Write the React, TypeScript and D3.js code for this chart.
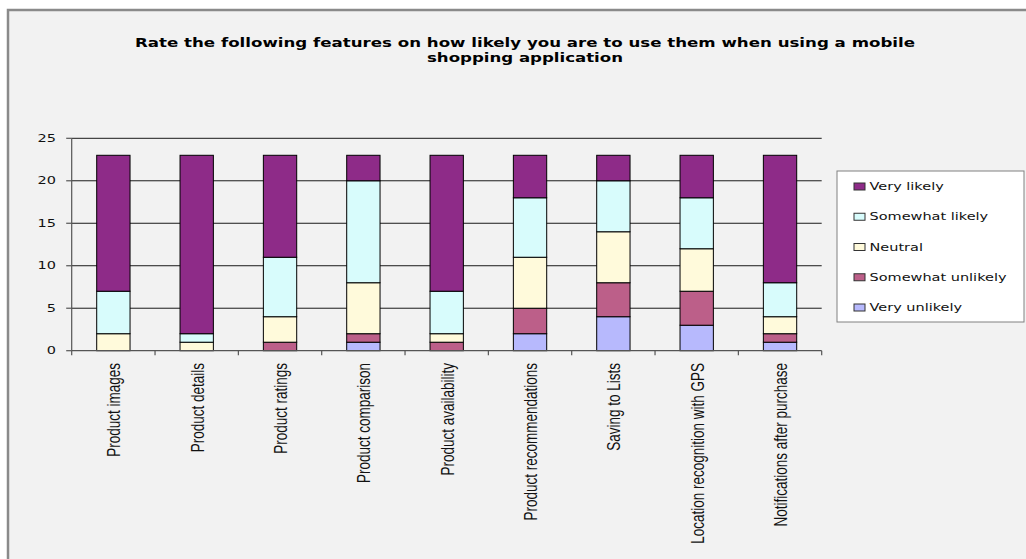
import React from "react";
import * as d3 from "d3";

// Survey features (x categories)
const categories = [
  "Product images",
  "Product details",
  "Product ratings",
  "Product comparison",
  "Product availability",
  "Product recommendations",
  "Saving to Lists",
  "Location recognition with GPS",
  "Notifications after purchase",
];

// Response counts per feature, stacked bottom to top
const veryUnlikely = [0, 0, 0, 1, 0, 2, 4, 3, 1];
const somewhatUnlikely = [0, 0, 1, 1, 1, 3, 4, 4, 1];
const neutral = [2, 1, 3, 6, 1, 6, 6, 5, 2];
const somewhatLikely = [5, 1, 7, 12, 5, 7, 6, 6, 4];
const veryLikely = [16, 21, 12, 3, 16, 5, 3, 5, 15];

const seriesNames = ["Very unlikely", "Somewhat unlikely", "Neutral", "Somewhat likely", "Very likely"];
const seriesValues = [veryUnlikely, somewhatUnlikely, neutral, somewhatLikely, veryLikely];
const seriesColors = ["#b7b9fd", "#bc5f89", "#fffadb", "#d8fcfc", "#8e2b88"];

const yTicks = [0, 5, 10, 15, 20, 25];

const titleLines = [
  "Rate the following features on how likely you are to use them when using a mobile",
  "shopping application",
];

export default function App() {
  const width = 1026;
  const height = 559;
  const plotLeft = 71.7;
  const plotRight = 821.7;
  const plotTop = 138.3;
  const plotBottom = 350.7;

  const x = d3
    .scaleBand<string>()
    .domain(categories)
    .range([plotLeft, plotRight])
    .paddingInner(0.6)
    .paddingOuter(0.3);
  const y = d3.scaleLinear().domain([0, 25]).range([plotBottom, plotTop]);

  const rows = categories.map((c, i) => {
    const row: Record<string, number | string> = { category: c };
    seriesNames.forEach((s, k) => (row[s] = seriesValues[k][i]));
    return row;
  });
  const stacked = d3.stack<any>().keys(seriesNames)(rows);

  const step = x.step();
  const gap = (step - x.bandwidth()) / 2;
  const boundaries = categories.map((c) => (x(c) as number) - gap);
  boundaries.push(plotRight);

  const legendOrder = [...seriesNames].reverse();
  const legendX = 837;
  const legendY = 171;
  const legendRowStart = 186.5;
  const legendRowStep = 30.25;

  const sx = 1.45;

  return (
    <svg
      width={width}
      height={height}
      style={{ position: "absolute", left: 0, top: 0, background: "#ffffff" }}
    >
      {/* chart frame */}
      <rect x={8} y={10} width={1040} height={580} fill="#f2f2f2" stroke="#8a8a8a" strokeWidth={2.5} />

      {/* title */}
      <g fontFamily="'DejaVu Sans', Verdana, sans-serif" fontWeight="bold" fontSize={13} fill="#000">
        <text x={525} y={46.5} textAnchor="middle" textLength={780} lengthAdjust="spacingAndGlyphs">
          {titleLines[0]}
        </text>
        <text x={525} y={61.5} textAnchor="middle" textLength={196} lengthAdjust="spacingAndGlyphs">
          {titleLines[1]}
        </text>
      </g>

      {/* gridlines */}
      {yTicks
        .filter((t) => t > 0)
        .map((t) => (
          <line key={t} x1={plotLeft} x2={plotRight} y1={y(t)} y2={y(t)} stroke="#1a1a1a" strokeWidth={1} />
        ))}

      {/* stacked bars */}
      {stacked.map((layer, k) => (
        <g key={layer.key} fill={seriesColors[k]} stroke="#000" strokeWidth={1}>
          {layer.map((d, i) =>
            d[1] - d[0] > 0 ? (
              <rect
                key={i}
                x={x(categories[i])}
                y={y(d[1])}
                width={x.bandwidth()}
                height={y(d[0]) - y(d[1])}
              />
            ) : null
          )}
        </g>
      ))}

      {/* y axis */}
      <line x1={plotLeft} x2={plotLeft} y1={plotTop} y2={plotBottom} stroke="#555" strokeWidth={1.2} />
      {yTicks.map((t) => (
        <g key={t}>
          <line x1={plotLeft - 5.5} x2={plotLeft} y1={y(t)} y2={y(t)} stroke="#555" strokeWidth={1.2} />
          <text
            transform={`translate(56,${y(t)}) scale(${sx},1)`}
            textAnchor="end"
            dy="0.36em"
            fontFamily="'DejaVu Sans', Verdana, sans-serif"
            fontSize={10}
            fill="#111"
          >
            {t}
          </text>
        </g>
      ))}

      {/* x axis */}
      <line x1={plotLeft} x2={plotRight} y1={plotBottom} y2={plotBottom} stroke="#555" strokeWidth={1.2} />
      {boundaries.map((b, i) => (
        <line key={i} x1={b} x2={b} y1={plotBottom} y2={plotBottom + 4.5} stroke="#555" strokeWidth={1.2} />
      ))}
      {categories.map((c) => (
        <text
          key={c}
          transform={`translate(${(x(c) as number) + x.bandwidth() / 2 + 1.5},363) scale(1.3,1) rotate(-90)`}
          textAnchor="end"
          dy="0.32em"
          fontFamily="'Liberation Sans', Arial, sans-serif"
          fontSize={13.5}
          fill="#111"
        >
          {c}
        </text>
      ))}

      {/* legend */}
      <rect x={legendX} y={legendY} width={187} height={151} fill="#ffffff" stroke="#808080" strokeWidth={1} />
      {legendOrder.map((name, i) => {
        const k = seriesNames.indexOf(name);
        const cy = legendRowStart + i * legendRowStep;
        return (
          <g key={name}>
            <rect x={854} y={cy - 3.5} width={11} height={7} fill={seriesColors[k]} stroke="#333" strokeWidth={1} />
            <text
              transform={`translate(869.5,${cy}) scale(${sx},1)`}
              dy="0.36em"
              fontFamily="'DejaVu Sans', Verdana, sans-serif"
              fontSize={10}
              fill="#111"
            >
              {name}
            </text>
          </g>
        );
      })}
    </svg>
  );
}
